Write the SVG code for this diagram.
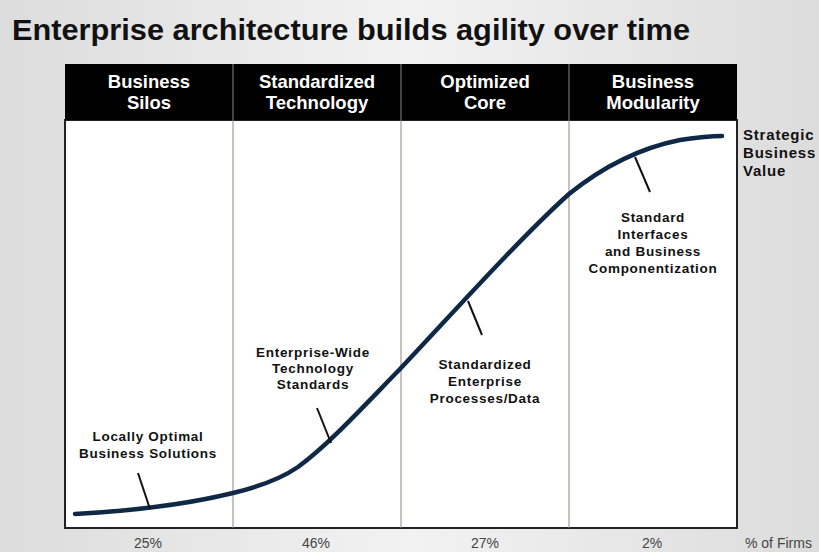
<svg xmlns="http://www.w3.org/2000/svg" width="819" height="552" viewBox="0 0 819 552">
<defs>
<linearGradient id="bg" x1="0" y1="0" x2="1" y2="0">
<stop offset="0" stop-color="#dcdcdc"/><stop offset="0.5" stop-color="#f2f2f2"/><stop offset="1" stop-color="#dcdcdc"/>
</linearGradient>
<style>
.t{font-family:"Liberation Sans",Arial,sans-serif;font-weight:bold;}
.h{font-family:"Liberation Sans",Arial,sans-serif;font-weight:bold;font-size:18.5px;fill:#fff;text-anchor:middle;}
.l{font-family:"Liberation Sans",Arial,sans-serif;font-weight:bold;font-size:13.5px;letter-spacing:0.7px;fill:#111;text-anchor:middle;}
.p{font-family:"Liberation Sans",Arial,sans-serif;font-size:14px;fill:#444;text-anchor:middle;}
.s{font-family:"Liberation Sans",Arial,sans-serif;font-weight:bold;font-size:15px;letter-spacing:0.8px;fill:#111;}
.div{stroke:#8a8a80;stroke-width:1;}
.tick{stroke:#111;stroke-width:2;}
</style>
</defs>
<rect width="819" height="552" fill="url(#bg)"/>
<text class="t" x="12" y="40" font-size="30" fill="#111" textLength="678" lengthAdjust="spacingAndGlyphs">Enterprise architecture builds agility over time</text>
<g id="frame">
<rect x="65" y="120" width="672" height="408" fill="#fff" stroke="#222" stroke-width="2"/>
<rect x="65" y="64" width="672" height="56" fill="#000"/>
</g>
<g id="dividers">
<line class="div" x1="233" y1="64" x2="233" y2="528"/>
<line class="div" x1="401" y1="64" x2="401" y2="528"/>
<line class="div" x1="569" y1="64" x2="569" y2="528"/>
</g>
<g id="h1"><text class="h" x="149" y="88">Business</text><text class="h" x="149" y="109">Silos</text></g>
<g id="h2"><text class="h" x="317" y="88">Standardized</text><text class="h" x="317" y="109">Technology</text></g>
<g id="h3"><text class="h" x="485" y="88">Optimized</text><text class="h" x="485" y="109">Core</text></g>
<g id="h4"><text class="h" x="653" y="88">Business</text><text class="h" x="653" y="109">Modularity</text></g>
<g id="connectors">
<path d="M75,514 C130,511 180,506 233,493 C262,486 282,478 298,467 C330,443 360,410 400,369 C450,316 520,238 569,194 C605,165 640,148 680,140 C700,137 712,136 722,136" fill="none" stroke="#0f2845" stroke-width="4.5" stroke-linecap="round"/>
<line class="tick" x1="138" y1="473" x2="150" y2="509"/>
<line class="tick" x1="317" y1="408" x2="331" y2="443"/>
<line class="tick" x1="468" y1="301" x2="482" y2="335"/>
<line class="tick" x1="635" y1="157" x2="650" y2="192"/>
</g>
<g id="n1"><text class="l" x="148" y="441">Locally Optimal</text><text class="l" x="148" y="458">Business Solutions</text></g>
<g id="n2"><text class="l" x="313" y="357">Enterprise-Wide</text><text class="l" x="313" y="373">Technology</text><text class="l" x="313" y="389">Standards</text></g>
<g id="n3"><text class="l" x="485" y="369">Standardized</text><text class="l" x="485" y="386">Enterprise</text><text class="l" x="485" y="403">Processes/Data</text></g>
<g id="n4"><text class="l" x="653" y="222">Standard</text><text class="l" x="653" y="239">Interfaces</text><text class="l" x="653" y="256">and Business</text><text class="l" x="653" y="273">Componentization</text></g>
<g id="n5"><text class="s" x="743" y="140">Strategic</text><text class="s" x="743" y="158">Business</text><text class="s" x="743" y="176">Value</text></g>
<g id="pct">
<text class="p" x="148" y="548">25%</text>
<text class="p" x="316" y="548">46%</text>
<text class="p" x="485" y="548">27%</text>
<text class="p" x="652" y="548">2%</text>
<text class="p" x="745" y="548" style="text-anchor:start">% of Firms</text>
</g>
</svg>
